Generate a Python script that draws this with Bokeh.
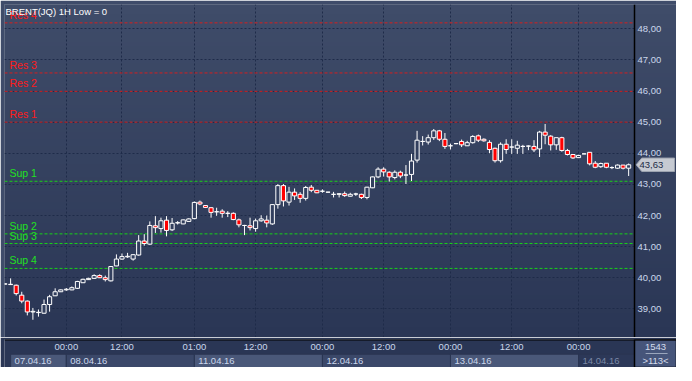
import numpy as np
from bokeh.plotting import figure
from bokeh.layouts import column
from bokeh.models import ColumnDataSource, FixedTicker, Span, Label, Range1d
from bokeh.core.properties import value
from bokeh.embed import file_html
from bokeh.resources import INLINE

# ---------------- data (hourly BRENT candles, 113 visible bars) ----------------
opens = [39.80, 39.78, 39.76, 39.44, 39.25, 38.90, 38.88, 38.86, 39.14, 39.42,
         39.55, 39.61, 39.61, 39.66, 39.84, 39.94, 39.98, 40.07, 40.00, 39.90,
         40.38, 40.60, 40.67, 40.60, 40.73, 41.18, 41.08, 41.67, 41.58, 41.85,
         41.54, 41.76, 41.73, 41.81, 41.90, 42.43, 42.32, 42.25, 42.12, 42.14,
         42.07, 42.07, 41.86, 41.68, 41.67, 41.58, 41.83, 41.85, 41.73, 42.35,
         42.96, 42.43, 42.75, 42.68, 42.55, 42.91, 42.81, 42.78, 42.75, 42.68,
         42.68, 42.70, 42.62, 42.69, 42.68, 42.58, 42.89, 43.24, 43.49, 43.39,
         43.22, 43.39, 43.30, 43.32, 43.78, 44.38, 44.36, 44.50, 44.72, 44.45,
         44.24, 44.31, 44.38, 44.24, 44.34, 44.56, 44.45, 44.35, 44.16, 43.76,
         44.29, 44.20, 44.16, 44.22, 44.23, 44.22, 44.14, 44.68, 44.55, 44.27,
         44.50, 44.09, 43.96, 43.86, 43.98, 44.03, 43.68, 43.57, 43.68, 43.54,
         43.52, 43.62, 43.52]
highs = [39.82, 39.98, 39.78, 39.55, 39.27, 39.03, 38.98, 39.30, 39.45, 39.66,
         39.62, 39.67, 39.72, 39.90, 39.97, 40.00, 40.11, 40.11, 40.07, 40.37,
         40.75, 40.78, 40.80, 40.76, 41.37, 41.40, 41.81, 41.98, 41.93, 41.98,
         41.92, 41.82, 41.87, 41.91, 42.45, 42.48, 42.33, 42.27, 42.25, 42.20,
         42.14, 42.10, 41.90, 41.70, 41.93, 41.90, 42.01, 42.00, 42.36, 43.01,
         43.01, 42.92, 42.87, 42.75, 42.95, 42.98, 42.82, 42.84, 42.76, 42.76,
         42.72, 42.77, 42.73, 42.73, 42.70, 42.92, 43.25, 43.55, 43.55, 43.42,
         43.45, 43.44, 43.62, 43.98, 44.72, 44.55, 44.60, 44.78, 44.75, 44.65,
         44.31, 44.33, 44.44, 44.40, 44.58, 44.60, 44.48, 44.42, 44.18, 44.35,
         44.45, 44.45, 44.40, 44.27, 44.25, 44.42, 44.72, 44.94, 44.58, 44.50,
         44.53, 44.14, 43.98, 43.95, 43.99, 44.03, 43.75, 43.70, 43.68, 43.58,
         43.64, 43.62, 43.67]
lows = [39.78, 39.77, 39.43, 39.18, 38.79, 38.65, 38.75, 38.85, 38.91, 39.42,
        39.54, 39.58, 39.60, 39.64, 39.83, 39.93, 39.97, 39.99, 39.88, 39.88,
        40.37, 40.58, 40.64, 40.55, 40.71, 41.03, 41.05, 41.44, 41.45, 41.33,
        41.50, 41.71, 41.72, 41.80, 41.88, 42.33, 42.24, 41.93, 41.99, 41.93,
        41.95, 41.85, 41.62, 41.37, 41.52, 41.48, 41.80, 41.62, 41.70, 42.22,
        42.29, 42.32, 42.50, 42.41, 42.48, 42.75, 42.72, 42.73, 42.74, 42.58,
        42.58, 42.60, 42.61, 42.63, 42.53, 42.52, 42.88, 43.20, 43.25, 43.09,
        43.16, 43.20, 43.01, 43.11, 43.70, 44.25, 44.28, 44.43, 44.39, 44.14,
        44.12, 44.29, 44.20, 44.24, 44.31, 44.36, 44.37, 44.00, 43.70, 43.70,
        43.98, 43.98, 43.98, 43.98, 44.10, 44.04, 43.88, 44.29, 44.09, 44.11,
        44.05, 43.93, 43.82, 43.85, 43.97, 43.61, 43.52, 43.53, 43.52, 43.49,
        43.50, 43.48, 43.27]
closes = [39.80, 39.79, 39.49, 39.25, 38.90, 38.92, 38.89, 39.14, 39.39, 39.55,
          39.61, 39.63, 39.68, 39.88, 39.95, 39.98, 40.07, 40.00, 39.94, 40.36,
          40.60, 40.68, 40.69, 40.74, 41.18, 41.10, 41.68, 41.61, 41.83, 41.52,
          41.75, 41.77, 41.86, 41.89, 42.42, 42.37, 42.26, 42.10, 42.12, 42.07,
          42.07, 41.87, 41.70, 41.68, 41.61, 41.83, 41.89, 41.76, 42.35, 42.96,
          42.47, 42.75, 42.63, 42.55, 42.90, 42.81, 42.73, 42.78, 42.75, 42.68,
          42.70, 42.64, 42.68, 42.69, 42.58, 42.91, 43.24, 43.49, 43.40, 43.24,
          43.39, 43.27, 43.30, 43.75, 44.42, 44.38, 44.50, 44.72, 44.45, 44.22,
          44.24, 44.31, 44.27, 44.34, 44.54, 44.42, 44.40, 44.12, 43.76, 44.29,
          44.12, 44.20, 44.26, 44.22, 44.23, 44.11, 44.68, 44.58, 44.27, 44.50,
          44.09, 43.96, 43.85, 43.93, 43.98, 43.66, 43.55, 43.67, 43.55, 43.54,
          43.62, 43.52, 43.63]

last_price = 43.63
last_price_text = "43,63"
bar_total = "1543"
bar_visible = ">113<"
title_text = "BRENT(JQ) 1H Low = 0"

res_names = ["Res 1", "Res 2", "Res 3", "Res 4"]
res_levels = [45.00, 45.99, 46.58, 48.19]
sup_names = ["Sup 1", "Sup 2", "Sup 3", "Sup 4"]
sup_levels = [43.10, 41.41, 41.10, 40.30]

price_ticks = [39, 40, 41, 42, 43, 44, 45, 46, 47, 48]
price_labels = ["39,00", "40,00", "41,00", "42,00", "43,00", "44,00", "45,00",
                "46,00", "47,00", "48,00"]

time_ticks = [11, 21, 34, 45, 57, 68, 80, 91, 103]
time_labels = ["00:00", "12:00", "01:00", "12:00", "00:00", "12:00", "00:00",
               "12:00", "00:00"]

day_starts = [1, 11, 34, 57, 80, 103]
day_labels = ["07.04.16", "08.04.16", "11.04.16", "12.04.16", "13.04.16", "14.04.16"]

# ---------------- style / geometry ----------------
FONT = "Liberation Sans"
BG_TOP = (63, 76, 105)
BG_BOT = (42, 54, 85)
BG = "#35425f"
BG_DARK = "#2a3655"
LABEL_C = "#cbd7ec"
GRID_C = "#1e2b49"
PLOT_W, AXIS_W, FH = 630, 42, 333
X_START, PLOT_END = -0.1, 113.05
PX_PER_BAR = PLOT_W / (PLOT_END - X_START)
X_END = PLOT_END + AXIS_W / PX_PER_BAR
Y_START, Y_END = 38.08, 48.78
PX_PER_UNIT = FH / (Y_END - Y_START)


def gradient(rows=96):
    img = np.empty((rows, 1), dtype=np.uint32)
    view = img.view(dtype=np.uint8).reshape((rows, 1, 4))
    for r in range(rows):
        t = r / (rows - 1)
        for k in range(3):
            view[r, 0, k] = int(round(BG_BOT[k] + (BG_TOP[k] - BG_BOT[k]) * t))
        view[r, 0, 3] = 255
    return img


n = len(opens)
up = [c >= o for o, c in zip(opens, closes)]
src = ColumnDataSource(dict(
    x=list(range(n)),
    top=[max(o, c) for o, c in zip(opens, closes)],
    bottom=[min(o, c) for o, c in zip(opens, closes)],
    high=highs, low=lows,
    up=up,
))

x_range = Range1d(X_START, X_END)
p = figure(frame_width=PLOT_W + AXIS_W, frame_height=FH, x_range=x_range,
           y_range=Range1d(Y_START, Y_END), x_axis_location=None,
           y_axis_location="right", toolbar_location=None, output_backend="svg",
           min_border_left=4, min_border_right=0, min_border_top=4, min_border_bottom=0)
p.background_fill_color = BG
p.border_fill_color = "#3f4c6a"
p.outline_line_color = None

# background gradient (below the grid)
grad = gradient()
p.image_rgba(image=[grad], x=X_START, y=Y_START, dw=X_END - X_START, dh=Y_END - Y_START,
             level="image")

# price axis, labels drawn into the right-hand column
ax = p.yaxis[0]
ax.ticker = FixedTicker(ticks=price_ticks)
ax.major_label_overrides = {t: l for t, l in zip(price_ticks, price_labels)}
ax.major_label_text_font = FONT
ax.major_label_text_font_size = "9.5px"
ax.major_label_text_color = LABEL_C
ax.major_label_standoff = -(AXIS_W - 3)
ax.major_tick_out = 0
ax.major_tick_in = 0
ax.minor_tick_out = 0
ax.minor_tick_in = 0
ax.axis_line_color = None

p.ygrid.grid_line_color = GRID_C
p.ygrid.grid_line_dash = "2 2"
p.xgrid.ticker = FixedTicker(ticks=time_ticks)
p.xgrid.grid_line_color = GRID_C
p.xgrid.grid_line_dash = "2 2"

# support / resistance
p.segment(x0=X_START, x1=PLOT_END, y0=res_levels, y1=res_levels,
          line_color="#d42020", line_dash="3 2", line_width=1)
p.segment(x0=X_START, x1=PLOT_END, y0=sup_levels, y1=sup_levels,
          line_color="#18d018", line_dash="3 2", line_width=1)
p.text(x=[X_START] * len(res_levels), y=res_levels, text=res_names,
       text_color="#ff1a1a", text_font=value(FONT), text_font_size="10.5px",
       text_baseline="bottom", x_offset=5, y_offset=-2)
p.text(x=[X_START] * len(sup_levels), y=sup_levels, text=sup_names,
       text_color="#22e022", text_font=value(FONT), text_font_size="10.5px",
       text_baseline="bottom", x_offset=5, y_offset=-2)

# candles: white hollow = up, red = down
p.segment(x0="x", y0="low", x1="x", y1="high", source=src, line_color="white", line_width=1)
up_idx = [i for i in range(n) if up[i]]
dn_idx = [i for i in range(n) if not up[i]]
from bokeh.models import CDSView, IndexFilter
p.vbar(x="x", top="top", bottom="bottom", width=0.74, source=src,
       view=CDSView(filter=IndexFilter(dn_idx)),
       fill_color="#ff0000", line_color="white", line_width=1)
# hollow bodies: paint the local background inside, then a white outline
p.vbar(x="x", top="top", bottom="bottom", width=0.74, source=src,
       view=CDSView(filter=IndexFilter(up_idx)),
       fill_color="#323f5e", line_color="white", line_width=1)

# right-hand price column (same gradient, covering the grid there)
p.image_rgba(image=[grad], x=PLOT_END, y=Y_START, dw=X_END - PLOT_END,
             dh=Y_END - Y_START)
p.add_layout(Span(location=PLOT_END, dimension="height", line_color="black", line_width=1.5))
h = 6.7 / PX_PER_UNIT
a0 = PLOT_END + 0.3
a1 = PLOT_END + 1.3
a2 = X_END - 0.35
p.patch(x=[a0, a1, a2, a2, a1], y=[last_price, last_price + h, last_price + h,
                                   last_price - h, last_price - h],
        fill_color="#c6cad2", line_color="#9ea4b0", line_width=1)
p.text(x=[PLOT_END], y=[last_price], text=[last_price_text], x_offset=5,
       text_color="#1c2a46", text_font=value(FONT), text_font_size="9.5px",
       text_baseline="middle")

# title
p.add_layout(Label(x=1, y=FH - 1, x_units="screen", y_units="screen", text=title_text,
                   text_baseline="top", text_color="white", text_font=FONT,
                   text_font_size="9.5px"))

# ---------------- bottom strip: time labels + day boxes + bar counter ----------------
d = figure(frame_width=PLOT_W + AXIS_W, frame_height=28, x_range=x_range,
           y_range=Range1d(0, 2), x_axis_location="above", y_axis_location=None,
           toolbar_location=None, output_backend="svg", min_border_left=4,
           min_border_right=0, min_border_top=0, min_border_bottom=0)
d.background_fill_color = BG_DARK
d.border_fill_color = BG_DARK
d.outline_line_color = None
d.xgrid.visible = False
d.ygrid.visible = False
dx = d.xaxis[0]
dx.ticker = FixedTicker(ticks=time_ticks)
dx.major_label_overrides = {t: l for t, l in zip(time_ticks, time_labels)}
dx.major_label_text_font = FONT
dx.major_label_text_font_size = "9.5px"
dx.major_label_text_color = LABEL_C
dx.major_label_standoff = -12
dx.major_tick_out = 0
dx.major_tick_in = 0
dx.minor_tick_out = 0
dx.minor_tick_in = 0
dx.axis_line_color = None

day_ends = day_starts[1:] + [PLOT_END]
box_colors = ["#4a5879", "#3b4869", "#4a5879", "#3b4869", "#4a5879", "#2c3858"]
text_colors = [LABEL_C] * (len(day_labels) - 1) + ["#7b88a6"]
d.quad(left=day_starts, right=day_ends, bottom=0, top=0.95, fill_color=box_colors,
       line_color="#2a3552", line_width=1)
d.text(x=day_starts, y=[0.47] * len(day_starts), text=day_labels, text_color=text_colors,
       text_font=value(FONT), text_font_size="9.5px", text_baseline="middle",
       x_offset=4)

# bar counter cell
d.quad(left=[PLOT_END], right=[X_END], bottom=[0], top=[2], fill_color="#46557a",
       line_color="black", line_width=1.5)
mid = (PLOT_END + X_END) / 2
d.text(x=[mid, mid], y=[1.5, 0.5], text=[bar_total, bar_visible], text_color="#d4dcec",
       text_font=value(FONT), text_font_size="9.5px", text_align="center",
       text_baseline="middle")
d.segment(x0=[PLOT_END + 2.0], y0=[1.0], x1=[X_END - 1.6], y1=[1.0],
          line_color="#9aa6bc", line_width=1)
d.add_layout(Span(location=2, dimension="width", line_color="black", line_width=2))

layout = column(p, d, spacing=0)
open("out.html", "w").write(file_html(layout, INLINE))
